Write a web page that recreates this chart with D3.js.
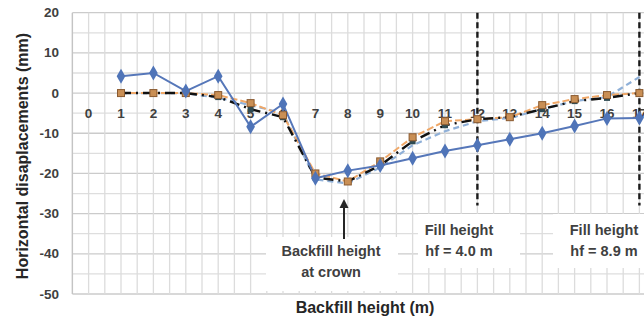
<!DOCTYPE html>
<html lang="en">
<head>
<meta charset="UTF-8">
<title>Horizontal displacements vs backfill height</title>
<style>
	body { margin: 0; background: #fff; }
	.tick-lbl { font-family: "Liberation Sans", Arial, sans-serif; font-weight: bold; font-size: 13.5px; fill: #404040; }
	.ax-title { font-family: "Liberation Sans", Arial, sans-serif; font-weight: bold; font-size: 16px; fill: #262626; }
	.note { font-family: "Liberation Sans", Arial, sans-serif; font-weight: bold; font-size: 14.5px; fill: #404040; }
</style>
<script src="https://d3js.org/d3.v7.min.js"></script>
</head>
<body>
<script>
	// categories on the x axis (backfill height, m)
	var heights = [0,1,2,3,4,5,6,7,8,9,10,11,12,13,14,15,16,17];
	var yTicks = [20,10,0,-10,-20,-30,-40,-50];

	// series values (x = 1..17)
	var seriesX = [1,2,3,4,5,6,7,8,9,10,11,12,13,14,15,16,17];
	var blueSolid  = [4.2,5,0.5,4.2,-8.4,-2.7,-21.2,-19.3,-18,-16.2,-14.4,-13,-11.5,-10,-8.2,-6.3,-6.2];
	var orangeDash = [0,0,0,-0.5,-2.5,-5.5,-20,-22,-17,-11,-7,-6.5,-6,-3,-1.5,-0.5,0];
	var blackDash  = [0,0,0,-1,-4,-6,-21,-22,-18,-12,-8,-6.5,-6,-4,-2,-1.2,0];
	var lightDash  = [0,0,0,-1.2,-3,-5,-21.5,-22.5,-18.5,-13,-9.5,-7,-6.2,-4,-2,-1,4];

	// annotation positions (x category)
	var fillLines = [12, 17];

	const w = 644, h = 321;
	const svg = d3.select("body").append("svg")
		.attr("width", w).attr("height", h);

	var x = d3.scaleBand().domain(heights).range([72.4, 72.4 + 32.4 * heights.length]).padding(0);
	var cx = (d) => x(d) + x.bandwidth() / 2;
	var y = d3.scaleLinear().domain([-50, 20]).range([294, 12.7]);

	// grid: horizontal every 5, vertical every half category
	var grid = svg.append("g");
	grid.selectAll(".hg").data(d3.range(-50, 20.1, 5)).enter().append("line")
		.attr("x1", 72.4).attr("x2", w)
		.attr("y1", (d) => y(d)).attr("y2", (d) => y(d))
		.attr("stroke", (d) => d % 10 === 0 ? "#cbcbcb" : "#dedede")
		.attr("stroke-width", 1.3);
	var vPos = [];
	heights.forEach(function(d) { vPos.push(x(d)); vPos.push(cx(d)); });
	grid.selectAll(".vg").data(vPos).enter().append("line")
		.attr("x1", (d) => d).attr("x2", (d) => d)
		.attr("y1", y(20)).attr("y2", y(-50))
		.attr("stroke", "#dcdcdc").attr("stroke-width", 1.3);
	// left axis line
	svg.append("line").attr("x1", 72.4).attr("x2", 72.4).attr("y1", y(20)).attr("y2", y(-50))
		.attr("stroke", "#c4c4c4").attr("stroke-width", 1.3);

	// white boxes behind the notes
	var boxes = [[266, 237, 132, 54], [418, 214, 102, 54], [553, 214, 91, 54]];
	svg.selectAll(".box").data(boxes).enter().append("rect")
		.attr("x", (d) => d[0]).attr("y", (d) => d[1])
		.attr("width", (d) => d[2]).attr("height", (d) => d[3])
		.attr("fill", "#fff");

	// y tick labels
	svg.append("g").selectAll("text").data(yTicks).enter().append("text")
		.attr("class", "tick-lbl")
		.attr("x", 59).attr("y", (d) => y(d) + 4.5)
		.attr("text-anchor", "end")
		.text((d) => d);

	// x tick labels sit just below zero line
	svg.append("g").selectAll("text").data(heights).enter().append("text")
		.attr("class", "tick-lbl")
		.attr("x", (d) => cx(d)).attr("y", y(0) + 25)
		.attr("text-anchor", "middle")
		.text((d) => d);

	// fill height dashed lines
	svg.selectAll(".fl").data(fillLines).enter().append("line")
		.attr("x1", (d) => cx(d)).attr("x2", (d) => cx(d))
		.attr("y1", y(20)).attr("y2", y(-28))
		.attr("stroke", "#1a1a1a").attr("stroke-width", 2.4)
		.attr("stroke-dasharray", "6,3.5");

	function line(vals) {
		return d3.line().x((d, i) => cx(seriesX[i])).y((d) => y(d))(vals);
	}

	// light blue dashed
	svg.append("path").attr("d", line(lightDash))
		.attr("fill", "none").attr("stroke", "#8fb0d8").attr("stroke-width", 2.2)
		.attr("stroke-dasharray", "6,4");
	// orange dashed
	svg.append("path").attr("d", line(orangeDash))
		.attr("fill", "none").attr("stroke", "#f0a868").attr("stroke-width", 2)
		.attr("stroke-dasharray", "7,3");
	// black dashed
	svg.append("path").attr("d", line(blackDash))
		.attr("fill", "none").attr("stroke", "#111").attr("stroke-width", 2.4)
		.attr("stroke-dasharray", "10,5,2,5");
	// blue solid
	svg.append("path").attr("d", line(blueSolid))
		.attr("fill", "none").attr("stroke", "#5677b9").attr("stroke-width", 2);

	// markers
	svg.append("g").selectAll("rect").data(blackDash).enter().append("rect")
		.attr("x", (d, i) => cx(seriesX[i]) - 3).attr("y", (d) => y(d) - 3)
		.attr("width", 6).attr("height", 6)
		.attr("fill", "#2e4a52");
	svg.append("g").selectAll("rect").data(orangeDash).enter().append("rect")
		.attr("x", (d, i) => cx(seriesX[i]) - 3.5).attr("y", (d) => y(d) - 3.5)
		.attr("width", 7).attr("height", 7)
		.attr("fill", "#c98f55").attr("stroke", "#8a5a30").attr("stroke-width", 1);
	svg.append("g").selectAll("path").data(blueSolid).enter().append("path")
		.attr("d", d3.symbol().type(d3.symbolDiamond).size(65))
		.attr("transform", (d, i) => "translate(" + cx(seriesX[i]) + "," + y(d) + ")")
		.attr("fill", "#4f74b8");

	// notes
	var notes = [
		{x: 331, y: 256, lines: ["Backfill height", "at crown"]},
		{x: 459, y: 235, lines: ["Fill height", "hf = 4.0 m"]},
		{x: 604, y: 235, lines: ["Fill height", "hf = 8.9 m"]}
	];
	notes.forEach(function(n) {
		n.lines.forEach(function(t, i) {
			svg.append("text").attr("class", "note")
				.attr("x", n.x).attr("y", n.y + i * 21)
				.attr("text-anchor", "middle").text(t);
		});
	});

	// arrow to crown
	svg.append("line").attr("x1", 344).attr("x2", 344).attr("y1", 239).attr("y2", 206)
		.attr("stroke", "#262626").attr("stroke-width", 2);
	svg.append("path").attr("d", "M344,199 L339.5,208 L348.5,208 Z").attr("fill", "#262626");

	// axis titles
	svg.append("text").attr("class", "ax-title")
		.attr("x", 365).attr("y", 313).attr("text-anchor", "middle")
		.text("Backfill height (m)");
	svg.append("text").attr("class", "ax-title")
		.attr("transform", "translate(28,156) rotate(-90)")
		.attr("text-anchor", "middle")
		.text("Horizontal disaplacements  (mm)");
</script>
</body>
</html>
